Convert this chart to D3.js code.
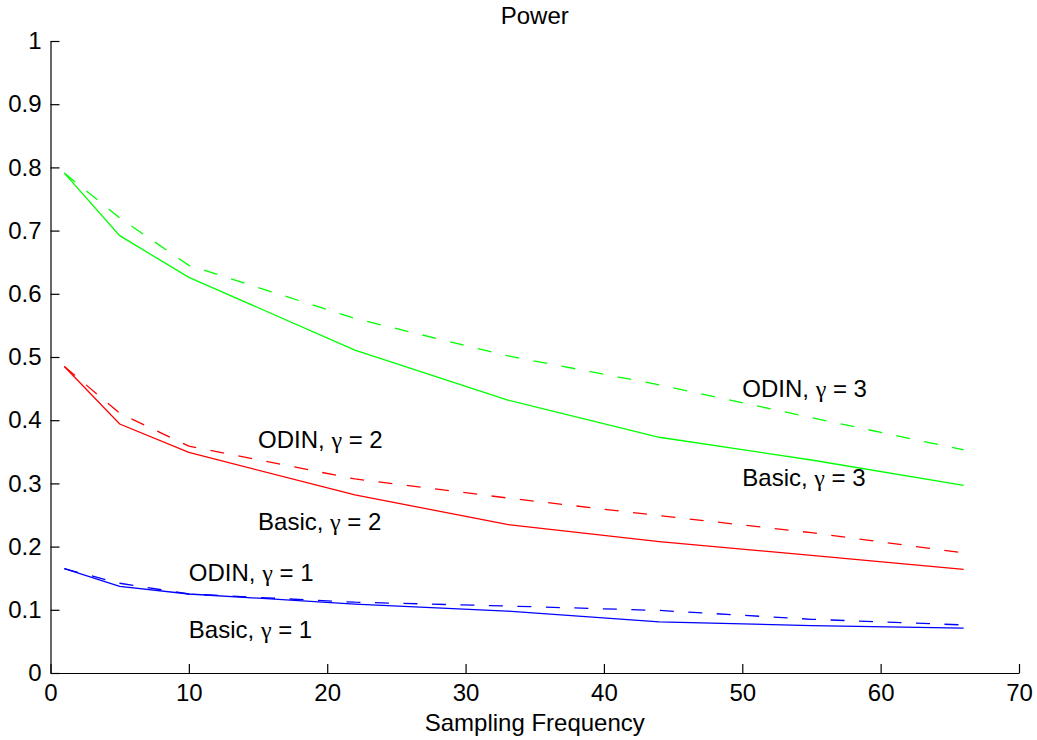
<!DOCTYPE html>
<html>
<head>
<meta charset="utf-8">
<script src="https://cdn.jsdelivr.net/npm/d3@7"></script>
<style>
  body { margin: 0; background: #fff; }
  text { font-family: "Liberation Sans", Arial, Helvetica, sans-serif; }
</style>
</head>
<body>
<div id="chart"></div>
<script>
// sampling frequencies on the x axis
var freqs = [1, 5, 10, 22, 33, 44, 55, 66];

// power values
var basic1 = [0.165, 0.137, 0.125, 0.109, 0.098, 0.081, 0.075, 0.071];
var odin1  = [0.165, 0.142, 0.125, 0.112, 0.106, 0.099, 0.085, 0.076];
var basic2 = [0.485, 0.394, 0.349, 0.282, 0.235, 0.208, 0.186, 0.164];
var odin2  = [0.485, 0.411, 0.359, 0.307, 0.277, 0.249, 0.222, 0.190];
var basic3 = [0.791, 0.692, 0.626, 0.511, 0.432, 0.373, 0.337, 0.297];
var odin3  = [0.791, 0.720, 0.645, 0.561, 0.502, 0.456, 0.404, 0.353];

var xTicks = [0, 10, 20, 30, 40, 50, 60, 70];
var yTicks = [0, 0.1, 0.2, 0.3, 0.4, 0.5, 0.6, 0.7, 0.8, 0.9, 1];

// label text and where it sits (data coords)
var labels = [
  {name: "ODIN",  g: 3, x: 50, y: 0.436},
  {name: "Basic", g: 3, x: 50, y: 0.296},
  {name: "ODIN",  g: 2, x: 15, y: 0.356},
  {name: "Basic", g: 2, x: 15, y: 0.226},
  {name: "ODIN",  g: 1, x: 10, y: 0.146},
  {name: "Basic", g: 1, x: 10, y: 0.056}
];

var series = [
  {values: basic1, color: "#0000ff", dash: null},
  {values: odin1,  color: "#0000ff", dash: "14,14.5"},
  {values: basic2, color: "#ff0000", dash: null},
  {values: odin2,  color: "#ff0000", dash: "14,14.5"},
  {values: basic3, color: "#00ff00", dash: null},
  {values: odin3,  color: "#00ff00", dash: "14,14.5"}
];

var margin = {top: 41, right: 18, bottom: 67, left: 50.5},
    width = 1037 - margin.left - margin.right,
    height = 740 - margin.top - margin.bottom;

var fontSize = "24px";

var svg = d3.select("#chart").append("svg")
    .attr("width", 1037)
    .attr("height", 740)
  .append("g")
    .attr("transform", "translate(" + margin.left + "," + margin.top + ")");

var x = d3.scaleLinear().domain([0, 70]).range([0, width]);
var y = d3.scaleLinear().domain([0, 1]).range([height, 0]);

var line = d3.line()
    .x(function(d, i) { return x(freqs[i]); })
    .y(function(d) { return y(d); });

// the lines
series.forEach(function(s) {
  svg.append("path")
      .datum(s.values)
      .attr("fill", "none")
      .attr("stroke", s.color)
      .attr("stroke-width", 1.3)
      .attr("stroke-dasharray", s.dash)
      .attr("d", line);
});

// x axis, ticks pointing in
var xAxis = svg.append("g")
    .attr("transform", "translate(0," + height + ")")
    .call(d3.axisBottom(x).tickValues(xTicks).tickSizeInner(-9).tickSizeOuter(0).tickPadding(11));

// y axis, ticks pointing in
var yAxis = svg.append("g")
    .call(d3.axisLeft(y).tickValues(yTicks).tickSizeInner(-9).tickSizeOuter(0).tickPadding(9)
      .tickFormat(function(d) { return d3.format("")(d); }));

[xAxis, yAxis].forEach(function(a) {
  a.select(".domain").attr("stroke", "#000").attr("stroke-width", 1.2);
  a.selectAll(".tick line").attr("stroke", "#000").attr("stroke-width", 1.2);
  a.selectAll(".tick text")
      .attr("fill", "#000")
      .style("font-size", fontSize)
      .style("font-family", "'Liberation Sans', Arial, sans-serif");
});

// curve labels, gamma in a serif face like the symbol font
var lbl = svg.selectAll(".lbl")
    .data(labels)
  .enter().append("text")
    .attr("class", "lbl")
    .attr("x", function(d) { return x(d.x); })
    .attr("y", function(d) { return y(d.y); })
    .style("font-size", fontSize);
lbl.append("tspan").text(function(d) { return d.name + ", "; });
lbl.append("tspan").style("font-family", "'Liberation Serif', 'DejaVu Serif', serif").text("\u03B3");
lbl.append("tspan").text(function(d) { return " = " + d.g; });

// title
svg.append("text")
    .attr("x", width / 2)
    .attr("y", -17)
    .attr("text-anchor", "middle")
    .style("font-size", fontSize)
    .text("Power");

// x axis label
svg.append("text")
    .attr("x", width / 2)
    .attr("y", height + 58)
    .attr("text-anchor", "middle")
    .style("font-size", fontSize)
    .text("Sampling Frequency");
</script>
</body>
</html>
